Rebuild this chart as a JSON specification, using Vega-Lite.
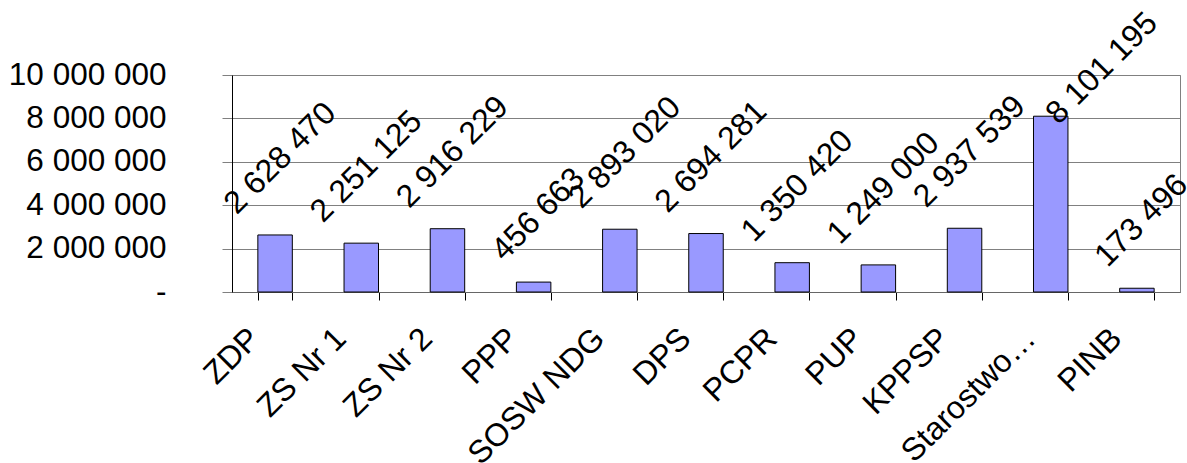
{
  "$schema": "https://vega.github.io/schema/vega-lite/v6.json",
  "autosize": "none",
  "width": 948,
  "height": 217,
  "padding": {"left": 232, "top": 75, "right": 7, "bottom": 171},
  "background": "white",
  "config": {
    "locale": {"number": {"decimal": ",", "thousands": " ", "grouping": [3], "currency": ["", ""]}},
    "font": "Liberation Sans",
    "view": {"stroke": "#808080", "strokeWidth": 1}
  },
  "data": {
    "values": [
      {"name": "ZDP", "value": 2628470},
      {"name": "ZS Nr 1", "value": 2251125},
      {"name": "ZS Nr 2", "value": 2916229},
      {"name": "PPP", "value": 456663},
      {"name": "SOSW NDG", "value": 2893020},
      {"name": "DPS", "value": 2694281},
      {"name": "PCPR", "value": 1350420},
      {"name": "PUP", "value": 1249000},
      {"name": "KPPSP", "value": 2937539},
      {"name": "Starostwo…", "value": 8101195},
      {"name": "PINB", "value": 173496}
    ]
  },
  "encoding": {
    "x": {
      "field": "name", "type": "nominal", "sort": null,
      "scale": {"paddingInner": 0.6, "paddingOuter": 0.3},
      "axis": {
        "title": null, "labelAngle": -45, "labelAlign": "right", "labelBaseline": "middle",
        "labelFontSize": 32, "labelColor": "#000000", "labelPadding": 33, "labelOffset": -21,
        "tickBand": "extent", "tickSize": 8, "tickColor": "#000000", "domainColor": "#666666",
        "labelOverlap": false, "labelLimit": 400
      }
    },
    "y": {
      "field": "value", "type": "quantitative",
      "scale": {"domain": [0, 10000000], "nice": false},
      "axis": {
        "title": null, "values": [0, 2000000, 4000000, 6000000, 8000000, 10000000],
        "labelExpr": "datum.value === 0 ? '-' : datum.label",
        "format": ",d", "labelFontSize": 31.5, "labelColor": "#000000", "labelPadding": 56,
        "tickSize": 10, "tickColor": "#808080", "domainColor": "#000000",
        "gridColor": "#808080", "gridOpacity": 1, "labelOverlap": false
      }
    }
  },
  "layer": [
    {
      "mark": {"type": "bar", "color": "#9999FF", "stroke": "#000000", "strokeWidth": 1}
    },
    {
      "mark": {
        "type": "text", "angle": -45, "align": "center", "baseline": "middle",
        "fontSize": 32, "color": "#000000",
        "theta": {"expr": "datum.value > 5000000 ? 0.815 : 0.065"},
        "radius": {"expr": "datum.value > 5000000 ? 70 : 36.5 + 4.5 * length(format(datum.value, ',d'))"}
      },
      "encoding": {
        "text": {"field": "value", "type": "quantitative", "format": ",d"}
      }
    }
  ]
}
